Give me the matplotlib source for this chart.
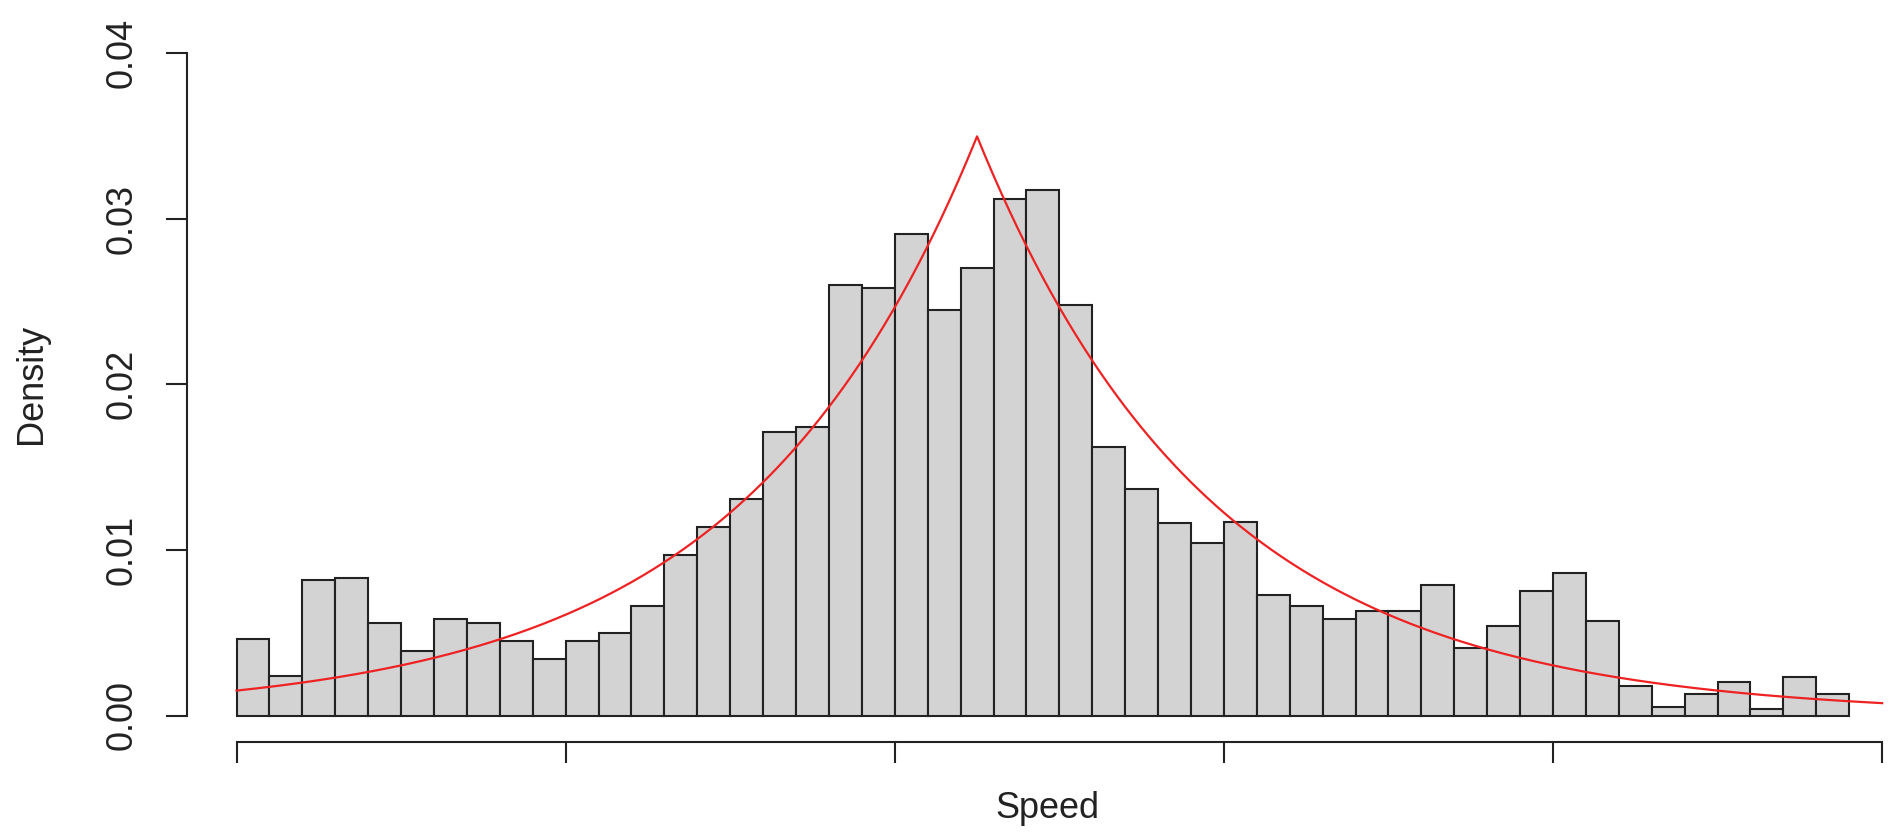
import numpy as np
import matplotlib
matplotlib.use('Agg')
import matplotlib.pyplot as plt

# ------------------------------------------------------------
# Data
# ------------------------------------------------------------

bin_width = 2
bin_left = np.arange(0, 98, bin_width)   # 49 bins, 0 .. 98

density = [0.0046, 0.0024, 0.0082, 0.0083, 0.0056, 0.0039, 0.0058, 0.0056, 0.0045, 0.0034,
           0.0045, 0.0050, 0.0066, 0.0097, 0.0114, 0.0131, 0.0171, 0.0174, 0.0260, 0.0258,
           0.0291, 0.0245, 0.0270, 0.0312, 0.0317, 0.0248, 0.0162, 0.0137, 0.0116, 0.0104,
           0.0117, 0.0073, 0.0066, 0.0058, 0.0063, 0.0063, 0.0079, 0.0041, 0.0054, 0.0075,
           0.0086, 0.0057, 0.0018, 0.0005, 0.0013, 0.0020, 0.0004, 0.0023, 0.0013]

# fitted Laplace density
laplace_loc = 45.0
laplace_scale = 14.3

x_ticks = [0, 20, 40, 60, 80, 100]
y_ticks = [0.00, 0.01, 0.02, 0.03, 0.04]
y_ticklabels = ['0.00', '0.01', '0.02', '0.03', '0.04']

# ------------------------------------------------------------
# Plot
# ------------------------------------------------------------

W, H = 1892, 835
plt.rcParams['font.family'] = ['Liberation Sans', 'DejaVu Sans']
fig = plt.figure(figsize=(W / 100, H / 100), dpi=100)

ax_left, ax_right, ax_top, ax_bottom = 187, 1892, 26.5, 742
ax = fig.add_axes([ax_left / W, 1 - ax_bottom / H,
                   (ax_right - ax_left) / W, (ax_bottom - ax_top) / H])

ax.bar(bin_left, density, width=bin_width, align='edge',
       color='#d3d3d3', edgecolor='#222222', linewidth=1.5)

xs = np.linspace(0, 100, 801)
ax.plot(xs, np.exp(-np.abs(xs - laplace_loc) / laplace_scale) / (2 * laplace_scale),
        color='#ee2222', linewidth=1.6)

ax.set_xlim(-3.01, 100.6)
ax.set_ylim(-0.0016, 0.0416)

for s in ['top', 'right']:
    ax.spines[s].set_visible(False)
ax.spines['left'].set_bounds(0, 0.04)
ax.spines['bottom'].set_bounds(0, 100)
for s in ['left', 'bottom']:
    ax.spines[s].set_linewidth(1.5)
    ax.spines[s].set_color('#222222')

ax.set_xticks(x_ticks)
ax.set_xticklabels([])
ax.set_yticks(y_ticks)
ax.set_yticklabels(y_ticklabels, rotation=90, va='center', fontsize=26, color='#222222')
ax.tick_params(axis='both', length=15, width=1.5, color='#222222')
ax.tick_params(axis='y', pad=19)

fig.text(1047 / W, 1 - 818 / H, 'Speed', ha='center', va='baseline',
         fontsize=26, color='#222222')
fig.text(32 / W, 1 - 384 / H, 'Density', ha='center', va='center', rotation=90,
         fontsize=26, color='#222222')

fig.savefig('out.png', dpi=100)
